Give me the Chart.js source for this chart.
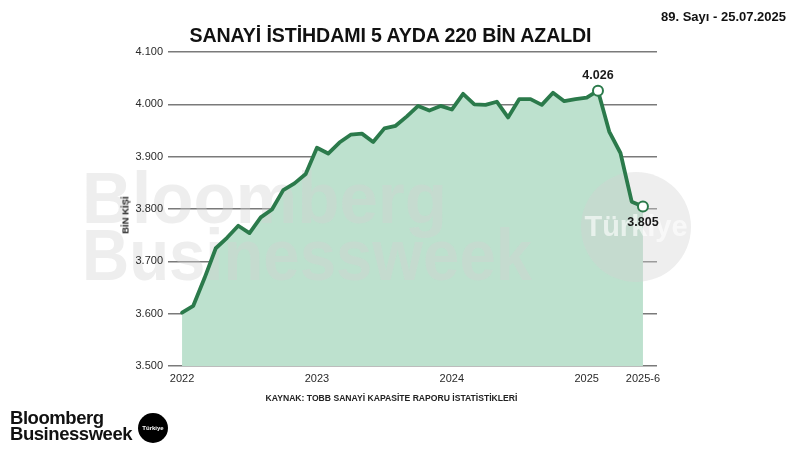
<!DOCTYPE html>
<html>
<head>
<meta charset="utf-8">
<script src="https://cdn.jsdelivr.net/npm/chart.js@4"></script>
<style>
  html, body { margin:0; padding:0; background:#fff; }
  #wrap { position:relative; width:800px; height:450px; overflow:hidden; font-family:"Liberation Sans", Arial, sans-serif; }
  #c { position:absolute; left:0; top:0; }
  .t { position:absolute; white-space:nowrap; color:#111; font-weight:bold; }
  #title { left:0; width:781px; text-align:center; top:24px; font-size:19.6px; letter-spacing:-0.1px; }
  #date { right:14px; top:9px; font-size:13px; }
  #source { left:0; width:783px; text-align:center; top:393px; font-size:8.6px; color:#222; }
  #ytitle { left:125px; top:215px; font-size:9.5px; color:#222; transform:translate(-50%,-50%) rotate(-90deg); }
  #logo { left:10px; top:410px; font-size:18.5px; line-height:15.5px; letter-spacing:-0.45px; }
  #badge { position:absolute; left:138px; top:413px; width:30px; height:30px; border-radius:50%; background:#000; color:#fff; font-size:6px; font-weight:bold; display:flex; align-items:center; justify-content:center; }
</style>
</head>
<body>
<div id="wrap">
  <canvas id="c" width="800" height="450"></canvas>
  <div class="t" id="title">SANAYİ İSTİHDAMI 5 AYDA 220 BİN AZALDI</div>
  <div class="t" id="date">89. Sayı - 25.07.2025</div>
  <div class="t" id="ytitle">BİN KİŞİ</div>
  <div class="t" id="source">KAYNAK: TOBB SANAYİ KAPASİTE RAPORU İSTATİSTİKLERİ</div>
  <div class="t" id="logo">Bloomberg<br>Businessweek</div>
  <div id="badge">Türkiye</div>
</div>
<script>
// ---- data (thousand persons) ----
const months = [
  '2022-01','2022-02','2022-03','2022-04','2022-05','2022-06','2022-07','2022-08','2022-09','2022-10','2022-11','2022-12',
  '2023-01','2023-02','2023-03','2023-04','2023-05','2023-06','2023-07','2023-08','2023-09','2023-10','2023-11','2023-12',
  '2024-01','2024-02','2024-03','2024-04','2024-05','2024-06','2024-07','2024-08','2024-09','2024-10','2024-11','2024-12',
  '2025-01','2025-02','2025-03','2025-04','2025-05','2025-06'
];
const employment = [
  3602,3615,3668,3725,3745,3768,3754,3784,3799,3836,3849,3867,
  3917,3906,3927,3942,3944,3928,3954,3959,3977,3997,3988,3997,
  3990,4020,4000,3999,4005,3975,4010,4010,3999,4022,4006,4010,
  4013,4026,3948,3907,3814,3805
];
const xTickMonths = ['2022-01','2023-01','2024-01','2025-01','2025-06'];
const xTickLabels = ['2022','2023','2024','2025','2025-6'];
const yTicks = [3500,3600,3700,3800,3900,4000,4100];
const labelledMonths = ['2025-02','2025-06'];

const LINE = '#2b7a4b';
const FILL = '#bde1ce';

function fmt(v){
  const s = String(Math.round(v));
  return s.length > 3 ? s.slice(0, s.length-3) + '.' + s.slice(-3) : s;
}

const points = months.map((m, i) => ({x: i, y: employment[i]}));
const tickIdx = xTickMonths.map(m => months.indexOf(m));
const labelIdx = labelledMonths.map(m => months.indexOf(m));

function drawWatermark(ctx, color){
  ctx.save();
  ctx.fillStyle = color;
  ctx.textBaseline = 'alphabetic';
  ctx.font = 'bold 72px "Liberation Sans", Arial, sans-serif';
  const lines = [['Bloomberg', 82, 223, 365], ['Businessweek', 82, 280, 450]];
  for (const [txt, x, y, w] of lines) {
    const mw = ctx.measureText(txt).width;
    ctx.save();
    ctx.translate(x, y);
    ctx.scale(w / mw, 1);
    ctx.fillText(txt, 0, 0);
    ctx.restore();
  }
  ctx.beginPath();
  ctx.arc(636, 227, 55, 0, Math.PI*2);
  ctx.fill();
  ctx.fillStyle = 'rgba(255,255,255,0.6)';
  ctx.font = 'bold 29px "Liberation Sans", Arial, sans-serif';
  ctx.textAlign = 'center';
  ctx.textBaseline = 'middle';
  ctx.fillText('Türkiye', 636, 228);
  ctx.restore();
}

const watermarkPlugin = {
  id: 'watermark',
  beforeDraw(chart){
    const ctx = chart.ctx, a = chart.chartArea;
    ctx.save();
    ctx.beginPath();
    ctx.rect(0, 0, chart.width, chart.height);
    ctx.rect(a.left, a.top - 2, a.right - a.left, a.bottom - a.top + 4);
    ctx.clip('evenodd');
    drawWatermark(ctx, '#eeeeee');
    ctx.restore();
  },
  afterDatasetDraw(chart, args){
    if (args.index !== 1) return;
    const ctx = chart.ctx, a = chart.chartArea;
    ctx.save();
    ctx.beginPath();
    ctx.rect(a.left, a.top - 2, a.right - a.left, a.bottom - a.top + 4);
    ctx.clip();
    drawWatermark(ctx, 'rgba(210,210,210,0.38)');
    ctx.restore();
  }
};

const valueLabels = {
  id: 'valueLabels',
  afterDatasetsDraw(chart){
    const meta = chart.getDatasetMeta(0);
    const ctx = chart.ctx;
    ctx.save();
    ctx.font = 'bold 12.5px "Liberation Sans", Arial, sans-serif';
    ctx.fillStyle = '#1a1a1a';
    ctx.textAlign = 'center';
    ctx.textBaseline = 'middle';
    labelIdx.forEach((i, k) => {
      const p = meta.data[i];
      const dy = k === 0 ? -15 : 16;
      ctx.fillText(fmt(employment[i]), p.x, p.y + dy);
    });
    ctx.restore();
  }
};

new Chart(document.getElementById('c'), {
  type: 'line',
  data: {
    datasets: [
      {
        data: points,
        borderColor: LINE,
        borderWidth: 3.8,
        borderJoinStyle: 'round',
        borderCapStyle: 'round',
        tension: 0,
        fill: false,
        pointRadius: ctx => labelIdx.includes(ctx.dataIndex) ? 5 : 0,
        pointBackgroundColor: '#ffffff',
        pointBorderColor: LINE,
        pointBorderWidth: 2,
        order: 1
      },
      {
        data: points,
        borderWidth: 0,
        borderColor: 'rgba(0,0,0,0)',
        backgroundColor: FILL,
        fill: 'start',
        pointRadius: 0,
        tension: 0,
        order: 2
      }
    ]
  },
  options: {
    responsive: false,
    animation: false,
    events: [],
    layout: { padding: { left: 0, right: 143, top: 52, bottom: 60 } },
    plugins: { legend: { display: false }, tooltip: { enabled: false }, title: { display: false } },
    scales: {
      x: {
        type: 'linear',
        min: -1.25,
        max: 42.25,
        afterFit(scale){ scale.height = 24; },
        afterBuildTicks(scale){ scale.ticks = tickIdx.map(v => ({ value: v })); },
        grid: { display: false, drawTicks: false },
        border: { display: false },
        ticks: {
          autoSkip: false,
          maxRotation: 0,
          padding: 6,
          color: '#2a2a2a',
          font: { family: '"Liberation Sans", Arial, sans-serif', size: 11 },
          callback: v => xTickLabels[tickIdx.indexOf(v)] ?? ''
        }
      },
      y: {
        min: 3500,
        max: 4100,
        afterFit(scale){ scale.width = 168; },
        afterBuildTicks(scale){ scale.ticks = yTicks.map(v => ({ value: v })); },
        grid: { color: '#7a7a7a', lineWidth: 1.4, drawTicks: false },
        border: { display: false },
        ticks: {
          padding: 5,
          color: '#2a2a2a',
          font: { family: '"Liberation Sans", Arial, sans-serif', size: 11 },
          callback: v => fmt(v)
        }
      }
    }
  },
  plugins: [watermarkPlugin, valueLabels]
});
</script>
</body>
</html>
